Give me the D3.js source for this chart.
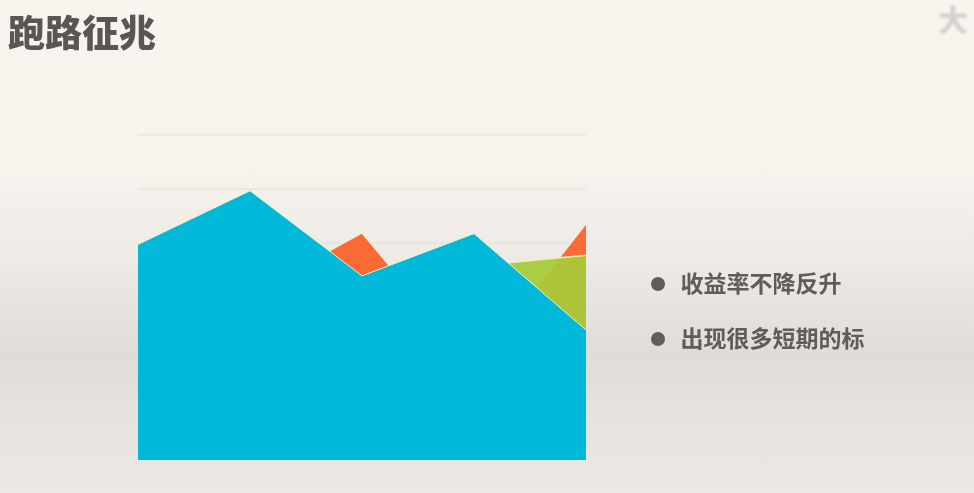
<!DOCTYPE html>
<html><head><meta charset="utf-8">
<script src="https://cdn.jsdelivr.net/npm/d3@7/dist/d3.min.js"></script>
<style>html,body{margin:0;padding:0;overflow:hidden;background:#f7f3ed}svg{display:block}</style>
</head><body><svg id="c" width="974" height="493"></svg>
<script>
const categories = ["1","2","3","4","5"];
const orangeValues = [2.0, 3.05, 4.19, 1.72, 4.36];
const greenValues = [1.6, 2.4, 2.9, 3.58, 3.78];
const blueValues = [3.98, 4.97, 3.4, 4.18, 2.4];
const gridTicks = [0, 1, 2, 3, 4, 5, 6];
const bullets = ["收益率不降反升", "出现很多短期的标"];
const titleText = "跑路征兆";

const svg = d3.select("#c");
const W = 974, H = 493;
const defs = svg.append("defs");
const bg = defs.append("linearGradient").attr("id","bg").attr("x1",0).attr("x2",0).attr("y1",0).attr("y2",1);
[[0,"#f8f4ee"],[0.36,"#f6f2ec"],[0.55,"#ece9e4"],[0.72,"#e0ddd9"],[0.85,"#e6e3de"],[1,"#ece8e3"]]
  .forEach(([o,c])=>bg.append("stop").attr("offset",o).attr("stop-color",c));
const blur = defs.append("filter").attr("id","soft").attr("x","-10%").attr("y","-10%").attr("width","120%").attr("height","120%");
blur.append("feGaussianBlur").attr("stdDeviation",0.5);
const blur2 = defs.append("filter").attr("id","wm").attr("x","-30%").attr("y","-30%").attr("width","160%").attr("height","160%");
blur2.append("feGaussianBlur").attr("stdDeviation",0.8);
svg.append("rect").attr("width",W).attr("height",H).attr("fill","url(#bg)");

const x = d3.scalePoint().domain(categories).range([138,586]);
const y = d3.scaleLinear().domain([0,6]).range([460,135]);

const grid = svg.append("g").attr("class","grid");
grid.selectAll("line").data(gridTicks.filter(d=>d>=3)).join("line")
  .attr("x1",138).attr("x2",586).attr("y1",d=>y(d)).attr("y2",d=>y(d))
  .attr("stroke","#e4e0da").attr("stroke-width",1.2);

const area = d3.area().x((d,i)=>x(categories[i])).y0(y(0)).y1(d=>y(d));
const line = d3.line().x((d,i)=>x(categories[i])).y(d=>y(d));
const series = [
  {v:orangeValues, fill:"#f96a35", stroke:"#fbe9dc", op:1, w:1.2},
  {v:greenValues, fill:"#a7cb3a", stroke:"#eef0b8", op:0.93, w:1.4},
  {v:blueValues, fill:"#00b9d8", stroke:"#eef0d0", op:1, w:1}
];
const marks = svg.append("g").attr("filter","url(#soft)");
series.forEach(s=>{
  marks.append("path").attr("d",area(s.v)).attr("fill",s.fill).attr("fill-opacity",s.op);
  marks.append("path").attr("d",line(s.v)).attr("fill","none").attr("stroke",s.stroke).attr("stroke-width",s.w);
});

const fam = "'Noto Sans CJK SC','Noto Sans',sans-serif";
svg.append("text").attr("x",8).attr("y",47).text(titleText)
  .attr("font-family",fam).attr("font-size",37).attr("font-weight",900).attr("fill","#5a5755").attr("filter","url(#soft)");
svg.append("text").attr("x",938).attr("y",31).text("大")
  .attr("font-family",fam).attr("font-size",30).attr("font-weight",900).attr("fill","#d6d3cd").attr("filter","url(#wm)");

const rows = svg.append("g").attr("filter","url(#soft)");
const rowY = d3.scaleOrdinal().domain(bullets).range([284,339]);
bullets.forEach(t=>{
  rows.append("circle").attr("cx",658).attr("cy",rowY(t)).attr("r",7).attr("fill","#605d5b");
  rows.append("text").attr("x",680.5).attr("y",rowY(t)+8).text(t)
    .attr("font-family",fam).attr("font-size",23).attr("font-weight",700).attr("fill","#5f5c5a");
});
</script></body></html>
